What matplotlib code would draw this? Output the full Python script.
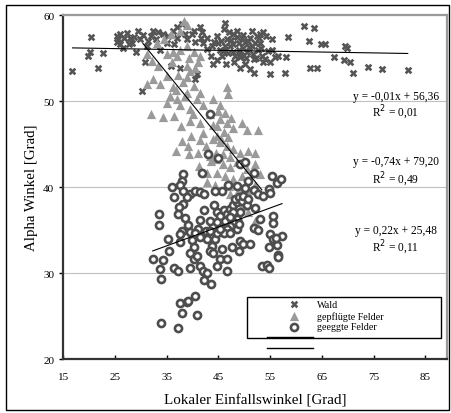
import matplotlib.pyplot as plt
from matplotlib.patches import Rectangle

plt.rcParams["font.family"] = ["Liberation Serif", "DejaVu Serif"]

# ---------------- data ----------------
wald_x = [16.6, 20.3, 19.8, 20.2, 21.8, 22.6, 25.3, 25.3, 26.0, 27.3, 26.5, 27.9, 28.2,
          29.5, 29.0, 30.2, 30.8, 31.1, 32.4, 33.0, 33.7, 35.0, 35.3, 35.9, 36.3, 37.0,
          37.9, 38.5, 38.9, 37.6, 40.2, 41.5, 41.8, 40.5, 40.8, 42.1, 42.7, 43.7, 44.0,
          44.7, 45.0, 45.3, 45.6, 46.0, 46.3, 46.6, 47.3, 47.9, 47.9, 48.5, 48.9, 49.2,
          49.5, 49.8, 50.2, 50.5, 50.8, 51.1, 51.5, 51.8, 51.9, 52.4, 52.7, 53.1, 53.4,
          53.7, 54.0, 55.0, 55.3, 55.3, 56.0, 56.6, 57.9, 58.1, 58.5, 61.6, 62.6, 62.7,
          63.5, 64.1, 64.9, 65.6, 67.3, 69.2, 69.5, 69.8, 70.4, 71.1, 74.0, 76.6, 81.6,
          45.5, 46.2, 46.8, 47.4, 47.8, 48.2, 48.6, 49.0, 49.4, 49.8, 50.1, 50.4, 50.9,
          51.2, 51.6, 52.0, 52.3, 52.8, 53.2, 53.6, 54.2, 54.6, 55.0, 44.2, 43.5, 42.8,
          41.6, 40.4, 39.8, 37.0, 36.4, 34.2, 33.4, 32.0, 31.4, 30.5, 29.8, 28.6, 27.8,
          26.8, 26.0, 25.6, 48.0, 49.2, 46.5, 44.8, 45.8, 47.0, 51.5, 53.0]
wald_y = [53.5, 57.5, 55.3, 55.7, 53.8, 55.6, 57.6, 56.9, 57.8, 57.9, 56.2, 57.4, 56.8,
          58.1, 55.7, 51.2, 54.5, 56.4, 58.1, 57.2, 56.0, 56.8, 57.6, 54.1, 58.2, 58.6,
          59.0, 57.8, 57.2, 53.8, 58.2, 58.6, 58.0, 52.6, 53.1, 56.8, 57.4, 56.4, 54.3,
          57.6, 56.8, 56.0, 55.3, 58.4, 59.1, 57.2, 56.4, 55.7, 57.8, 58.2, 56.8, 55.1,
          57.3, 56.2, 54.3, 55.7, 57.0, 53.7, 56.4, 54.9, 53.3, 57.6, 56.0, 56.8, 55.3,
          58.0, 54.9, 53.1, 57.2, 56.0, 55.1, 55.3, 53.3, 55.1, 57.5, 58.7, 57.0, 53.9,
          58.5, 53.9, 56.6, 56.7, 55.1, 54.8, 56.4, 56.2, 54.6, 53.3, 54.0, 53.7, 53.6,
          57.0, 56.4, 55.6, 57.1, 56.6, 55.2, 57.5, 56.0, 55.4, 57.7, 56.9, 55.0, 56.3,
          57.3, 55.5, 56.8, 55.0, 57.3, 56.2, 54.6, 57.6, 55.8, 54.5, 56.9, 55.2, 56.1,
          57.4, 56.9, 57.8, 57.4, 56.6, 57.8, 58.0, 57.6, 57.0, 57.7, 57.2, 57.5, 56.6,
          57.3, 56.6, 57.2, 54.6, 53.8, 54.3, 54.8, 55.8, 58.0, 58.1, 57.8]

pfl_x = [38.4, 38.9, 37.6, 35.9, 34.4, 33.1, 31.1, 32.1, 33.4, 35.0, 36.3, 37.6, 38.9,
         40.2, 41.5, 38.9, 40.5, 39.5, 35.0, 32.4, 31.1, 33.7, 36.3, 35.6, 36.9, 35.0,
         37.6, 38.9, 40.2, 41.5, 40.8, 39.5, 42.1, 44.0, 45.3, 46.6, 46.9, 32.0, 34.3,
         36.5, 37.8, 39.5, 41.5, 43.4, 45.3, 44.7, 46.6, 47.9, 49.5, 50.5, 52.7, 38.0,
         39.7, 39.1, 36.8, 39.4, 41.0, 42.6, 44.0, 45.3, 46.6, 47.9, 49.2, 50.8, 52.1,
         43.3, 44.6, 45.9, 47.2, 48.5, 50.5, 52.1, 41.2, 42.8, 44.7, 46.3, 47.9, 49.5,
         53.1, 42.8, 44.4, 47.0, 48.9, 50.5, 52.1, 48.2, 49.5, 50.8, 48.8, 52.1,
         36.0, 37.2, 38.2, 39.0, 36.8, 38.5, 37.0, 39.4, 41.0, 44.8, 45.5, 46.0, 44.5,
         45.8, 46.2, 47.5, 44.0, 45.0, 46.8, 47.2, 43.5, 42.0, 40.0, 41.5, 47.3]
pfl_y = [59.3, 58.8, 58.2, 57.8, 57.2, 56.8, 55.5, 54.7, 54.1, 55.5, 55.7, 56.0, 56.4,
         55.7, 55.3, 54.1, 53.9, 53.5, 52.9, 52.6, 52.0, 52.0, 51.6, 50.6, 50.2, 49.8,
         49.5, 51.0, 51.8, 51.0, 50.2, 49.1, 49.5, 50.2, 49.5, 51.6, 50.8, 48.5, 48.1,
         48.3, 47.1, 47.7, 47.5, 48.5, 47.9, 47.1, 47.5, 46.9, 47.5, 46.6, 46.6, 45.4,
         46.0, 44.8, 44.2, 43.8, 44.0, 44.8, 45.6, 45.2, 44.8, 44.4, 44.0, 44.2, 44.0,
         43.6, 43.3, 42.7, 42.3, 42.9, 42.1, 42.7, 42.5, 41.7, 41.7, 41.3, 40.9, 41.3,
         41.5, 40.6, 40.3, 40.1, 39.8, 39.6, 40.2, 38.6, 37.8, 37.1, 36.7, 36.1,
         54.5, 53.0, 52.2, 52.8, 51.3, 50.6, 55.2, 55.0, 54.6, 46.0, 45.6, 46.4, 44.0,
         43.8, 48.6, 48.0, 47.2, 48.8, 45.8, 43.5, 43.0, 46.3, 48.5, 45.5, 39.2]

egg_x = [38.2, 37.9, 37.6, 38.2, 36.0, 39.5, 40.5, 41.5, 42.2, 41.9, 43.3, 42.9, 45.0,
         49.2, 50.2, 51.8, 50.8, 48.5, 50.2, 51.8, 52.7, 53.7, 54.7, 55.3, 56.3, 57.1,
         55.0, 45.6, 46.8, 44.3, 36.5, 38.1, 37.4, 37.1, 42.2, 44.2, 33.6, 33.6, 35.2,
         35.5, 32.3, 34.3, 33.7, 33.8, 36.5, 37.1, 39.5, 38.5, 39.2, 37.9, 37.6, 37.6,
         39.5, 39.8, 40.2, 39.5, 40.2, 40.8, 41.5, 42.1, 42.8, 42.2, 43.5, 41.5, 42.5,
         42.8, 43.7, 43.4, 44.0, 44.4, 44.7, 45.6, 45.3, 46.6, 44.7, 46.6, 47.6, 48.9,
         49.2, 49.8, 51.1, 51.8, 52.7, 53.1, 52.1, 53.4, 54.4, 54.7, 54.7, 55.0, 55.6,
         55.6, 55.6, 56.3, 56.5, 56.6, 57.3, 56.1, 37.6, 37.9, 38.9, 39.2, 40.5, 40.8,
         33.9, 37.1, 44.7, 45.3, 46.0, 46.6, 47.3, 47.9, 48.5, 48.2, 48.9, 49.5, 49.8,
         49.2, 48.5, 47.9, 47.3, 46.6, 46.0, 45.3, 44.0, 47.3, 48.5, 50.5, 50.8, 47.9,
         46.3, 47.3, 48.9, 43.4, 44.7, 41.1, 40.5, 41.5, 43.4, 38.9]
egg_y = [41.5, 40.7, 40.2, 39.6, 40.0, 39.2, 39.6, 39.4, 39.2, 41.7, 48.5, 43.8, 43.4,
         42.7, 42.9, 41.7, 40.7, 40.1, 39.9, 39.7, 39.2, 39.0, 39.8, 41.3, 40.5, 40.9,
         39.3, 39.6, 40.2, 39.5, 38.9, 38.1, 37.7, 36.9, 37.4, 37.9, 36.9, 35.6, 34.0,
         32.6, 31.7, 31.5, 30.5, 29.3, 30.6, 30.3, 30.6, 36.4, 35.6, 34.9, 34.5, 33.6,
         34.8, 33.8, 33.0, 32.4, 31.6, 32.0, 30.8, 30.3, 30.0, 29.2, 28.7, 36.2, 34.9,
         34.0, 33.2, 32.6, 32.4, 34.0, 34.7, 32.8, 31.7, 31.7, 30.8, 30.2, 33.0, 32.6,
         33.7, 33.4, 33.4, 35.2, 35.0, 36.3, 37.6, 30.8, 31.0, 30.6, 33.1, 34.5, 34.0,
         36.6, 35.8, 33.3, 32.1, 31.9, 34.3, 34.1, 26.5, 25.4, 26.6, 26.8, 27.3, 25.1,
         24.2, 23.6, 37.1, 36.7, 37.3, 36.9, 37.5, 37.9, 38.3, 38.6, 38.8, 38.4, 39.0,
         37.1, 36.3, 35.9, 35.5, 35.1, 34.7, 35.1, 35.5, 34.7, 35.1, 37.9, 38.6, 37.1,
         36.1, 36.5, 35.7, 36.1, 35.9, 35.1, 34.7, 34.2, 34.9, 38.8]

# trend lines: (slope, intercept, x range)
fits = [(-0.01, 56.36, 16.8, 81.6), (-0.74, 79.20, 30.4, 53.4), (0.22, 25.48, 32.3, 57.3)]
fit_labels = [("y = -0,01x + 56,36", "R$^2$ = 0,01", 50.6, 48.7),
              ("y = -0,74x + 79,20", "R$^2$ = 0,49", 43.0, 41.0),
              ("y = 0,22x + 25,48", "R$^2$ = 0,11", 35.0, 33.0)]

# ---------------- plot ----------------
fig = plt.figure(figsize=(4.52, 4.14), dpi=100)
ax = fig.add_axes([0.140, 0.130, 0.849, 0.831])

ax.scatter(wald_x, wald_y, marker="X", s=30, color="#555555", linewidths=0,
           label="Wald", zorder=3)
ax.scatter(pfl_x, pfl_y, marker="^", s=44, color="#9a9a9a", linewidths=0,
           label="gepflügte Felder", zorder=3)
ax.scatter(egg_x, egg_y, marker="o", s=26, facecolor="white", edgecolor="#4d4d4d",
           linewidths=1.9, label="geeggte Felder", zorder=4)

for m, b, x0, x1 in fits:
    ax.plot([x0, x1], [m * x0 + b, m * x1 + b], color="black", lw=0.8, zorder=5)

for eq, r2, y1, y2 in fit_labels:
    ax.text(79.3, y1, eq, ha="center", va="center", fontsize=8.3)
    ax.text(79.3, y2, r2, ha="center", va="center", fontsize=8.3)

ax.set_xlim(15, 89.2)
ax.set_ylim(20, 60)
ax.set_xticks(range(15, 86, 10))
ax.set_yticks(range(20, 61, 10))
ax.yaxis.grid(True, color="#c0c0c0", lw=0.8)
ax.set_axisbelow(True)
ax.tick_params(axis="both", labelsize=8, length=3, width=1)
ax.tick_params(axis="x", direction="in", pad=9)

for side in ["left", "bottom"]:
    ax.spines[side].set_color("#333333")
    ax.spines[side].set_linewidth(1.6)
for side in ["top", "right"]:
    ax.spines[side].set_color("#9a9a9a")
    ax.spines[side].set_linewidth(1.6)

ax.set_xlabel("Lokaler Einfallswinkel [Grad]", fontsize=10.8, labelpad=9)
ax.set_ylabel("Alpha Winkel [Grad]", fontsize=10.7, labelpad=4)

# legend: frame drawn by hand, entries without frame
ax.add_patch(Rectangle((0.479, 0.061), 0.505, 0.119, transform=ax.transAxes,
                       facecolor="white", edgecolor="black", lw=1.0, zorder=6))
ax.legend(loc="upper left", bbox_to_anchor=(0.585, 0.172), frameon=False,
          fontsize=7.2, borderpad=0, handlelength=1.3, handletextpad=1.6,
          labelspacing=0.18, borderaxespad=0, markerscale=1.0).set_zorder(7)
ax.plot([0.531, 0.651], [0.064, 0.064], transform=ax.transAxes, color="black",
        lw=1.0, clip_on=False, zorder=8)
ax.plot([0.531, 0.651], [0.032, 0.032], transform=ax.transAxes, color="black",
        lw=1.0, clip_on=False, zorder=8)

# outer frame
fig.patches.append(Rectangle((6 / 452, 3 / 414), 443 / 452, 405 / 414,
                             transform=fig.transFigure, fill=False,
                             edgecolor="black", lw=1.0))

fig.savefig("out.png", dpi=100)
